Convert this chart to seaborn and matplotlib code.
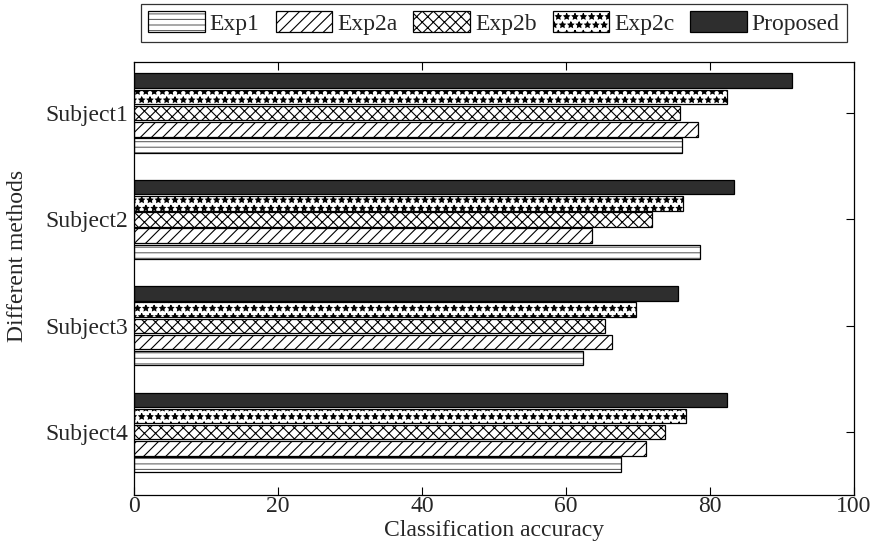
import matplotlib
matplotlib.use("Agg")
import matplotlib.pyplot as plt
import seaborn as sns
import pandas as pd

subjects = ["Subject1", "Subject2", "Subject3", "Subject4"]
methods = ["Exp1", "Exp2a", "Exp2b", "Exp2c", "Proposed"]
exp1 = [76.1, 78.7, 62.4, 67.6]
exp2a = [78.4, 63.6, 66.4, 71.1]
exp2b = [75.8, 72.0, 65.4, 73.8]
exp2c = [82.4, 76.3, 69.8, 76.7]
proposed = [91.4, 83.3, 75.6, 82.4]
xticks = [0, 20, 40, 60, 80, 100]

values = {"Exp1": exp1, "Exp2a": exp2a, "Exp2b": exp2b, "Exp2c": exp2c, "Proposed": proposed}
rows = []
for m in methods:
    for s, v in zip(subjects, values[m]):
        rows.append({"Subject": s, "Method": m, "Accuracy": v})
df = pd.DataFrame(rows)

sns.set_theme(style="white")
plt.rcParams["font.family"] = ["Liberation Serif", "DejaVu Serif"]
plt.rcParams["hatch.linewidth"] = 0.8
plt.rcParams["hatch.color"] = "black"

FS = 17
fig = plt.figure(figsize=(8.72, 5.44), dpi=100)
ax = fig.add_axes([0.1537, 0.0901, 0.8253, 0.7959])

hue_order = ["Proposed", "Exp2c", "Exp2b", "Exp2a", "Exp1"]
sns.barplot(data=df, y="Subject", x="Accuracy", hue="Method", hue_order=hue_order,
            order=subjects, orient="h", width=0.76, gap=0.1, ax=ax, legend=False,
            errorbar=None, saturation=1)

styles = {
    "Proposed": dict(fc="#2e2e2e", hatch=None, hc=None),
    "Exp2c": dict(fc="white", hatch="**", hc=(0, 0, 0, 1)),
    "Exp2b": dict(fc="white", hatch="xxx", hc=(0, 0, 0, 1)),
    "Exp2a": dict(fc="white", hatch="///", hc=(0, 0, 0, 1)),
    "Exp1": dict(fc="white", hatch="---", hc=(0.4, 0.4, 0.4, 1)),
}
cont_map = {}
for name, cont in zip(hue_order, ax.containers):
    cont_map[name] = cont
    st = styles[name]
    for p in cont:
        p.set_facecolor(st["fc"])
        p.set_edgecolor("black")
        p.set_linewidth(0.9)
        if st["hatch"]:
            p.set_hatch(st["hatch"])
            p._hatch_color = st["hc"]

ax.set_xlim(0, 100)
ax.set_ylim(3.59, -0.48)
ax.set_xticks(xticks)
ax.set_xticklabels([str(t) for t in xticks], fontsize=FS)
ax.set_yticks(range(len(subjects)))
ax.set_yticklabels(subjects, fontsize=FS)
ax.tick_params(axis="both", direction="in", length=6, width=0.8, color="black",
               top=True, right=True, bottom=True, left=True)
ax.tick_params(axis="x", pad=1)
ax.tick_params(axis="y", pad=4)
for sp in ax.spines.values():
    sp.set_color("black")
    sp.set_linewidth(0.9)
ax.set_xlabel("Classification accuracy", fontsize=FS, labelpad=2)
ax.set_ylabel("Different methods", fontsize=FS)
ax.yaxis.set_label_coords(-0.147, 0.552)

handles = [cont_map[m] for m in methods]
leg = fig.legend(handles, methods, loc="center", bbox_to_anchor=(0.5665, 0.958),
                 bbox_transform=fig.transFigure, ncol=5, fontsize=FS, frameon=True,
                 fancybox=False, edgecolor="black", handlelength=2.4, handleheight=1.0,
                 handletextpad=0.2, columnspacing=0.68, borderpad=0.3, borderaxespad=0)
leg.get_frame().set_linewidth(0.9)

fig.savefig("out.png", dpi=100)
